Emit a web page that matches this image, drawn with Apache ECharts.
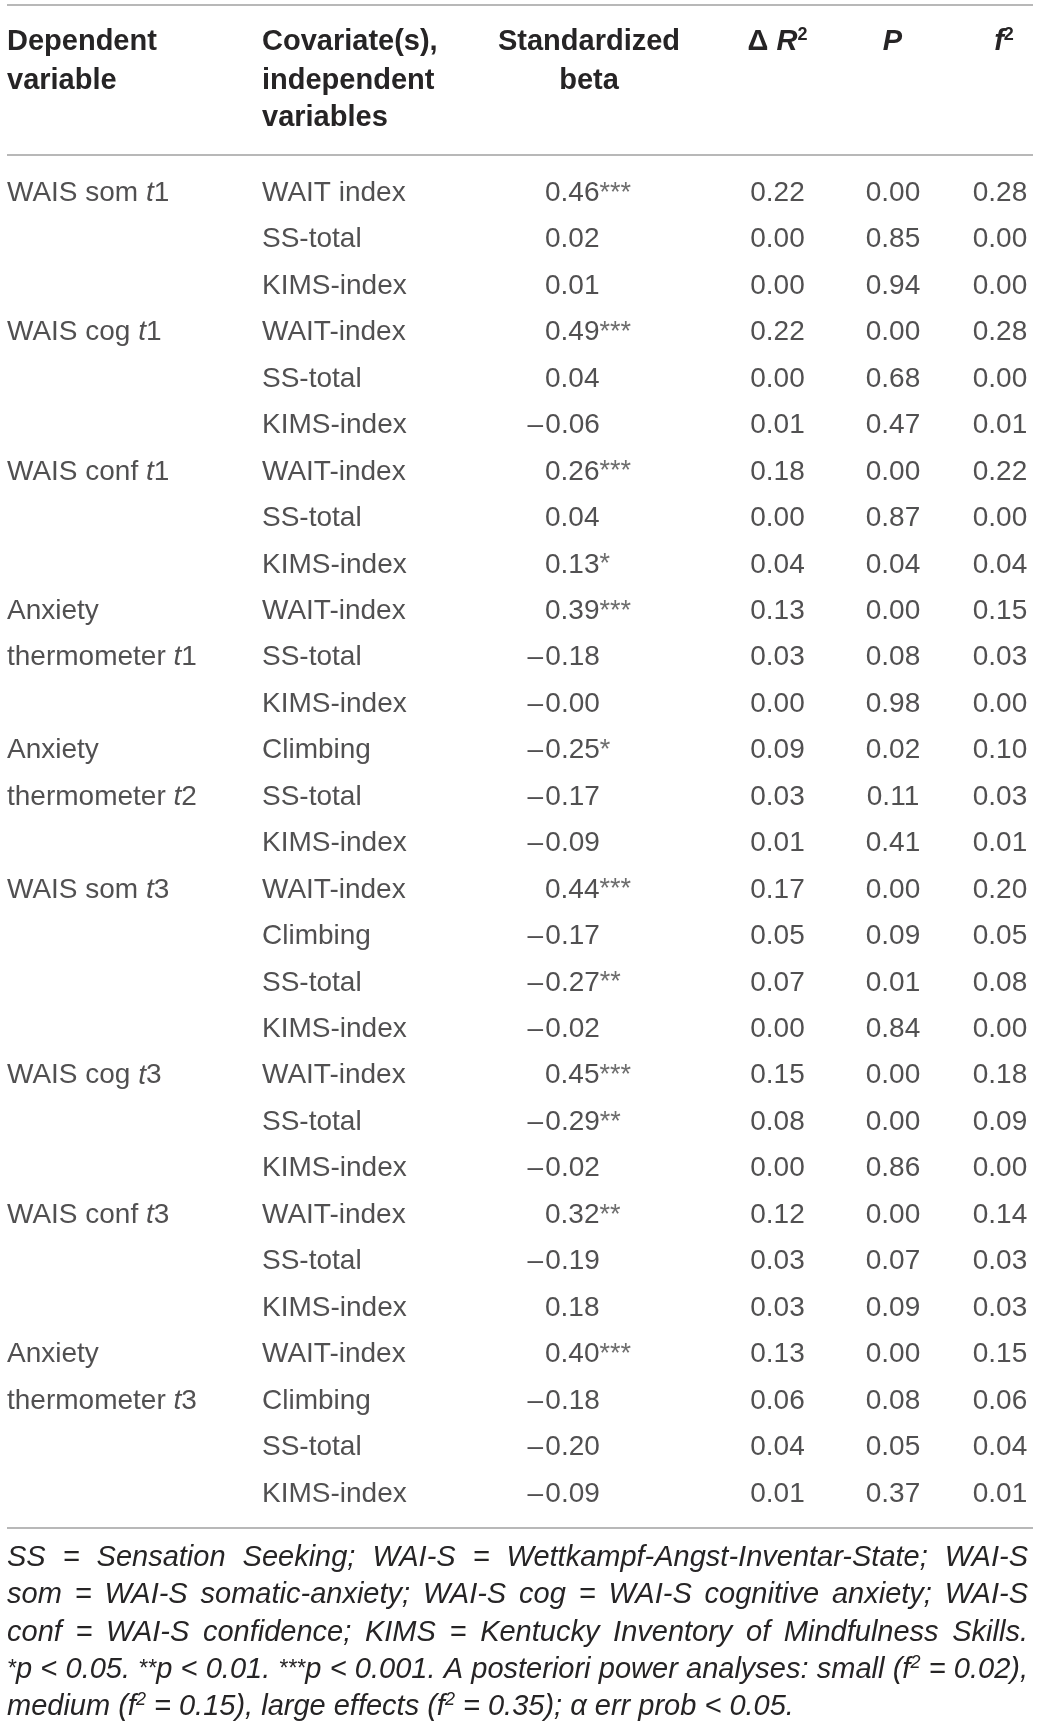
<!DOCTYPE html>
<html>
<head>
<meta charset="utf-8">
<script src="https://cdn.jsdelivr.net/npm/echarts@6/dist/echarts.min.js"></script>
<style>
html, body { margin: 0; padding: 0; background: #fff; }
#table { width: 1040px; height: 1727px; }
</style>
</head>
<body>
<div id="table"></div>
<script>
// table values, one entry per row
var dependent = ['WAIS som t1', '', '', 'WAIS cog t1', '', '', 'WAIS conf t1', '', '',
    'Anxiety', 'thermometer t1', '', 'Anxiety', 'thermometer t2', '',
    'WAIS som t3', '', '', '', 'WAIS cog t3', '', '', 'WAIS conf t3', '', '',
    'Anxiety', 'thermometer t3', '', ''];
var covariates = ['WAIT index', 'SS-total', 'KIMS-index', 'WAIT-index', 'SS-total', 'KIMS-index',
    'WAIT-index', 'SS-total', 'KIMS-index', 'WAIT-index', 'SS-total', 'KIMS-index',
    'Climbing', 'SS-total', 'KIMS-index', 'WAIT-index', 'Climbing', 'SS-total', 'KIMS-index',
    'WAIT-index', 'SS-total', 'KIMS-index', 'WAIT-index', 'SS-total', 'KIMS-index',
    'WAIT-index', 'Climbing', 'SS-total', 'KIMS-index'];
var beta = [0.46, 0.02, 0.01, 0.49, 0.04, -0.06, 0.26, 0.04, 0.13, 0.39, -0.18, -0,
    -0.25, -0.17, -0.09, 0.44, -0.17, -0.27, -0.02, 0.45, -0.29, -0.02,
    0.32, -0.19, 0.18, 0.40, -0.18, -0.20, -0.09];
var betaStars = ['***', '', '', '***', '', '', '***', '', '*', '***', '', '',
    '*', '', '', '***', '', '**', '', '***', '**', '', '**', '', '', '***', '', '', ''];
var deltaR2 = [0.22, 0.00, 0.00, 0.22, 0.00, 0.01, 0.18, 0.00, 0.04, 0.13, 0.03, 0.00,
    0.09, 0.03, 0.01, 0.17, 0.05, 0.07, 0.00, 0.15, 0.08, 0.00, 0.12, 0.03, 0.03,
    0.13, 0.06, 0.04, 0.01];
var pValues = [0.00, 0.85, 0.94, 0.00, 0.68, 0.47, 0.00, 0.87, 0.04, 0.00, 0.08, 0.98,
    0.02, 0.11, 0.41, 0.00, 0.09, 0.01, 0.84, 0.00, 0.00, 0.86, 0.00, 0.07, 0.09,
    0.00, 0.08, 0.05, 0.37];
var f2Values = [0.28, 0.00, 0.00, 0.28, 0.00, 0.01, 0.22, 0.00, 0.04, 0.15, 0.03, 0.00,
    0.10, 0.03, 0.01, 0.20, 0.05, 0.08, 0.00, 0.18, 0.09, 0.00, 0.14, 0.03, 0.03,
    0.15, 0.06, 0.04, 0.01];

var notes = [
    'SS = Sensation Seeking; WAI-S = Wettkampf-Angst-Inventar-State; WAI-S',
    'som = WAI-S somatic-anxiety; WAI-S cog = WAI-S cognitive anxiety; WAI-S',
    'conf = WAI-S confidence; KIMS = Kentucky Inventory of Mindfulness Skills.',
    '^*p < 0.05. ^**p < 0.01. ^***p < 0.001. A posteriori power analyses: small (f^2 = 0.02),',
    'medium (f^2 = 0.15), large effects (f^2 = 0.35); \u03b1 err prob < 0.05.'
];

// layout
var W = 1040, H = 1727;
var FONT = '"Liberation Sans", Arial, sans-serif';
var INK = '#262425';
var RULE = '#a0a0a0';
var rowPitch = 46.45;
var rowTop = 193.2 - rowPitch / 2;
var colX = { dep: 7, cov: 262, beta: 545, dr2: 777.5, p: 893, f2: 1000 };

var ctx = document.createElement('canvas').getContext('2d');
function measure(text, size, style, weight) {
    ctx.font = (style || 'normal') + ' ' + (weight || 'normal') + ' ' + size + 'px ' + FONT;
    return ctx.measureText(text).width;
}

var rich = {
    n: { fontFamily: FONT, fontSize: 28, color: INK, lineHeight: 32 },
    i: { fontFamily: FONT, fontSize: 28, color: INK, lineHeight: 32, fontStyle: 'italic' },
    s: { fontFamily: FONT, fontSize: 27, color: '#4a4a4a', lineHeight: 32 }
};

function cellSeries(name, x, texts, align, offsets) {
    return {
        name: name,
        type: 'scatter',
        symbolSize: 1,
        silent: true,
        itemStyle: { color: 'rgba(0,0,0,0)' },
        data: texts.map(function (t, i) {
            var item = { value: [x, i], text: t };
            if (offsets && offsets[i]) item.label = { offset: [offsets[i], 0] };
            return item;
        }),
        label: {
            show: true,
            position: 'inside',
            align: align,
            verticalAlign: 'middle',
            fontFamily: FONT,
            fontSize: 28,
            color: INK,
            rich: rich,
            formatter: function (p) { return p.data.text; }
        }
    };
}

function depText(t) {
    if (!t) return '';
    var m = /^(.*) t(\d)$/.exec(t);
    if (m) return '{n|' + m[1] + ' }{i|t}{n|' + m[2] + '}';
    return '{n|' + t + '}';
}

var dash = '\u2013';
var dashW = measure(dash, 28) + 2;
var betaTexts = beta.map(function (v, i) {
    var neg = v < 0 || Object.is(v, -0);
    var s = '{n|' + (neg ? dash + '\u200a' : '') + Math.abs(v).toFixed(2) + '}';
    if (betaStars[i]) s += '{s|' + betaStars[i] + '}';
    return s;
});
var betaOffsets = beta.map(function (v) {
    return (v < 0 || Object.is(v, -0)) ? -dashW : 0;
});
function fixed(arr) {
    return arr.map(function (v) { return '{n|' + v.toFixed(2) + '}'; });
}

// graphic helpers: text runs placed on a baseline
var graphics = [];
function midY(baseline, size) { return baseline - 0.35 * size; }
function run(parts, x, baseline, align, scaleX) {
    var sx = scaleX || 1;
    var widths = parts.map(function (p) { return measure(p.t, p.size, p.style, p.weight) * sx; });
    var total = widths.reduce(function (a, b) { return a + b; }, 0);
    var cx = align === 'center' ? x - total / 2 : x;
    parts.forEach(function (p, k) {
        graphics.push({
            type: 'text',
            x: cx,
            y: midY(baseline - (p.rise || 0), p.size),
            scaleX: sx,
            silent: true,
            style: {
                text: p.t, fill: INK, fontFamily: FONT, fontSize: p.size,
                fontStyle: p.style || 'normal', fontWeight: p.weight || 'normal',
                align: 'left', verticalAlign: 'middle'
            }
        });
        cx += widths[k];
    });
    return total;
}
function rule(y) {
    graphics.push({
        type: 'line', silent: true,
        shape: { x1: 7, y1: y, x2: 1033, y2: y },
        style: { stroke: RULE, lineWidth: 1.6 }
    });
}

// header
var HS = 29;
function hb(t) { return { t: t, size: HS, weight: 'bold' }; }
function hbi(t) { return { t: t, size: HS, weight: 'bold', style: 'italic' }; }
function hsup(t) { return { t: t, size: 18, weight: 'bold', rise: 11 }; }
run([hb('Dependent')], colX.dep, 52);
run([hb('variable')], colX.dep, 91);
run([hb('Covariate(s),')], colX.cov, 52);
run([hb('independent')], colX.cov, 91);
run([hb('variables')], colX.cov, 128);
run([hb('Standardized')], 589, 52, 'center');
run([hb('beta')], 589, 91, 'center');
run([hb('\u0394 '), hbi('R'), hsup('2')], 777.5, 52, 'center');
run([hbi('P')], 892.5, 52, 'center');
run([hbi('f'), hsup('2')], 1004, 52, 'center');

rule(5);
rule(155);
rule(1528);

// footnote, justified between L and R
var NS = 29;
var L = 7, R = 1028;
function parseWord(w) {
    return w.split(/(\^[*0-9]+)/).filter(Boolean).map(function (p) {
        if (p.charAt(0) !== '^') return { t: p, size: NS, style: 'italic' };
        var sup = p.slice(1);
        return sup.charAt(0) === '*'
            ? { t: sup, size: 23, style: 'italic', rise: 2 }
            : { t: sup, size: 18, style: 'italic', rise: 11 };
    });
}
function wordW(parts) {
    return parts.reduce(function (a, p) { return a + measure(p.t, p.size, p.style); }, 0);
}
var noteLines = notes.map(function (n) { return n.split(' ').map(parseWord); });
var spaceW = measure(' ', NS, 'italic');
var tight = noteLines[3];
var tightW = tight.reduce(function (a, w) { return a + wordW(w); }, 0) + spaceW * (tight.length - 1);
var squeeze = Math.min(1, (R - L) / tightW);

noteLines.forEach(function (words, li) {
    var base = 1568 + li * 37.3;
    var sumW = words.reduce(function (a, w) { return a + wordW(w) * squeeze; }, 0);
    var gap = li < noteLines.length - 1
        ? ((R - L) - sumW) / (words.length - 1)
        : spaceW * squeeze;
    var x = L;
    words.forEach(function (w) {
        x += run(w, x, base, 'left', squeeze) + gap;
    });
});

var chart = echarts.init(document.getElementById('table'));
chart.setOption({
    animation: false,
    grid: { left: 0, right: 0, top: rowTop, bottom: H - rowTop - rowPitch * covariates.length },
    xAxis: { type: 'value', min: 0, max: W, show: false },
    yAxis: {
        type: 'category', inverse: true, show: false,
        data: covariates.map(function (c, i) { return String(i); })
    },
    series: [
        cellSeries('dependent', colX.dep, dependent.map(depText), 'left'),
        cellSeries('covariate', colX.cov, covariates.map(function (c) { return '{n|' + c + '}'; }), 'left'),
        cellSeries('beta', colX.beta, betaTexts, 'left', betaOffsets),
        cellSeries('deltaR2', colX.dr2, fixed(deltaR2), 'center'),
        cellSeries('P', colX.p, fixed(pValues), 'center'),
        cellSeries('f2', colX.f2, fixed(f2Values), 'center')
    ],
    graphic: graphics
});
</script>
</body>
</html>
